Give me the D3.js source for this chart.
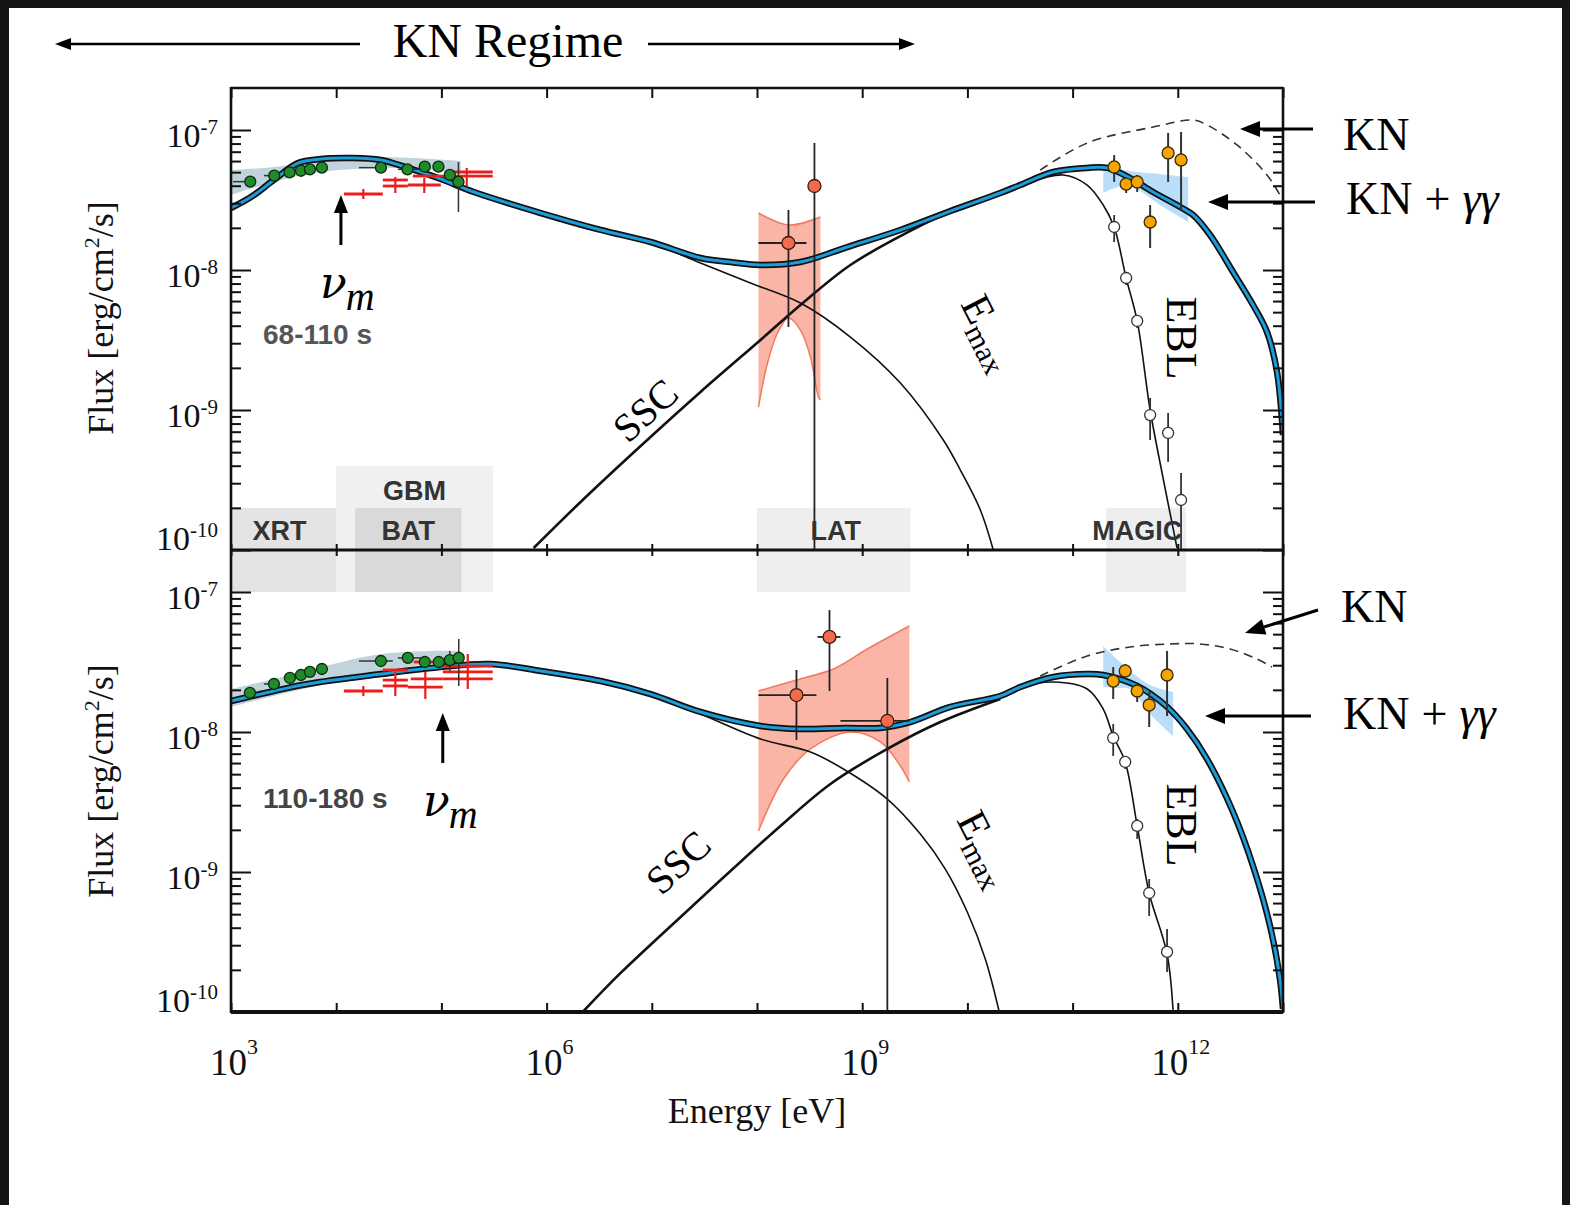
<!DOCTYPE html>
<html><head><meta charset="utf-8">
<script src="https://cdn.jsdelivr.net/npm/d3@7"></script>
<style>
html,body{margin:0;padding:0;background:#fff;}
svg{display:block;}
</style></head><body>
<svg id="chart" width="1570" height="1205"></svg>
<script>
// All values are log10: energy in eV, flux in erg cm^-2 s^-1.

// ---- instruments (energy coverage) ----
const instrumentNames = ["XRT", "GBM", "BAT", "LAT", "MAGIC"];
const instrumentLo    = [3.0, 4.0, 4.18, 8.0, 11.32];
const instrumentHi    = [4.0, 5.49, 5.19, 9.46, 12.08];

// ---- tick values ----
const xLabelDecades = [3, 6, 9, 12];
const yLabelDecades = [-10, -9, -8, -7];

// ---- 68-110 s ----
const earlyTotal = [[3.0,-7.557],[3.19,-7.479],[3.408,-7.357],[3.636,-7.236],[3.855,-7.207],[4.14,-7.2],[4.425,-7.214],[4.681,-7.271],[4.994,-7.35],[5.308,-7.443],[5.944,-7.593],[6.514,-7.714],[6.989,-7.8],[7.463,-7.914],[7.748,-7.943],[8.033,-7.964],[8.413,-7.943],[8.859,-7.836],[9.363,-7.714],[9.838,-7.579],[10.313,-7.45],[10.502,-7.393],[10.816,-7.3],[11.139,-7.271],[11.329,-7.271],[11.547,-7.343],[11.765,-7.443],[12.022,-7.55],[12.145,-7.607],[12.307,-7.75],[12.525,-8.014],[12.715,-8.25],[12.848,-8.443],[12.943,-8.729],[13.0,-9.179]];
const earlySync = [[3.0,-7.557],[3.19,-7.479],[3.408,-7.357],[3.636,-7.236],[3.855,-7.207],[4.14,-7.2],[4.425,-7.214],[4.681,-7.271],[4.994,-7.35],[5.308,-7.443],[5.944,-7.593],[6.514,-7.714],[6.989,-7.807],[7.463,-7.95],[7.938,-8.093],[8.413,-8.236],[8.888,-8.479],[9.363,-8.807],[9.771,-9.214],[9.933,-9.429],[10.123,-9.714],[10.246,-10.0]];
const earlySSC = [[5.877,-9.986],[6.323,-9.657],[6.894,-9.257],[7.463,-8.871],[8.033,-8.5],[8.413,-8.25],[8.888,-7.964],[9.486,-7.71],[9.838,-7.585],[10.313,-7.455]];
const earlyEBL = [[10.313,-7.45],[10.502,-7.393],[10.911,-7.321],[11.139,-7.393],[11.291,-7.536],[11.395,-7.693],[11.509,-8.057],[11.614,-8.364],[11.737,-9.0],[11.86,-9.486],[11.993,-9.986]];
const earlyKN = [[10.692,-7.286],[11.139,-7.093],[11.765,-6.979],[12.145,-6.929],[12.278,-6.964],[12.563,-7.107],[12.848,-7.321],[12.971,-7.464]];
const earlyXBandUp = [[3.0,-7.286],[3.408,-7.264],[3.855,-7.214],[4.425,-7.193],[4.899,-7.207],[5.184,-7.221]];
const earlyXBandLo = [[3.0,-7.464],[3.408,-7.371],[3.855,-7.3],[4.425,-7.271],[4.899,-7.286],[5.184,-7.314]];
const earlyLatUp = [[8.014,-7.593],[8.299,-7.679],[8.603,-7.621]];
const earlyLatLo = [[8.014,-8.979],[8.1,-8.664],[8.195,-8.45],[8.299,-8.343],[8.413,-8.429],[8.508,-8.621],[8.584,-8.907],[8.603,-8.929]];
const earlyMagicUp = [[11.291,-7.25],[11.547,-7.293],[11.832,-7.314],[12.098,-7.336]];
const earlyMagicLo = [[11.291,-7.45],[11.405,-7.414],[11.547,-7.4],[11.832,-7.536],[12.098,-7.657]];
// [E, F, Elo, Ehi, Flo, Fhi]
const earlyXrt = [[3.183,-7.369,3.02,3.183,null,null],[3.411,-7.326,3.313,3.411,null,null],[3.557,-7.302,null,null,null,null],[3.665,-7.291,null,null,null,null],[3.75,-7.281,null,null,null,null],[3.864,-7.269,null,null,null,null],[4.425,-7.269,4.216,4.425,null,null],[4.678,-7.281,4.586,4.833,null,null],[4.842,-7.262,null,null,null,null],[4.972,-7.262,null,null,null,null],[5.08,-7.321,null,null,null,null],[5.162,-7.371,null,null,-7.586,-7.229]];
// [Elo, Ehi, F, Flo, Fhi]
const earlyBat = [[4.073,4.443,-7.457,-7.493,-7.421],[4.443,4.681,-7.4,-7.45,-7.336],[4.443,4.681,-7.357,null,null],[4.681,4.994,-7.393,-7.45,-7.343],[4.728,4.994,-7.329,null,null],[4.994,5.488,-7.329,-7.4,-7.271],[5.1,5.488,-7.3,null,null]];
const earlyLat = [[8.299,-7.807,8.014,8.47,-8.407,-7.571],[8.546,-7.4,null,null,-10,-7.093]];
const earlyMagic = [[11.395,-7.264,null,null,-7.371,-7.179],[11.509,-7.386,null,null,-7.45,-7.357],[11.614,-7.371,null,null,-7.443,-7.321],[11.908,-7.164,null,null,-7.371,-7.021],[12.031,-7.214,null,null,-7.571,-7.014],[11.737,-7.657,null,null,-7.843,-7.536]];
const earlyMagicObs = [[11.395,-7.693,null,null,-7.8,-7.607],[11.509,-8.057,null,null,-8.107,-8.014],[11.614,-8.364,null,null,-8.414,-8.321],[11.737,-9.036,null,null,-9.214,-8.914],[11.908,-9.164,null,null,-9.371,-9.021],[12.031,-9.643,null,null,-10,-9.45]];

// ---- 110-180 s ----
const lateTotal = [[3.0,-7.779],[3.408,-7.707],[3.731,-7.657],[4.425,-7.586],[4.994,-7.536],[5.469,-7.514],[5.944,-7.564],[6.514,-7.636],[6.989,-7.729],[7.463,-7.857],[8.033,-7.957],[8.413,-7.979],[8.84,-7.971],[9.173,-7.971],[9.458,-7.929],[9.838,-7.821],[10.313,-7.743],[10.502,-7.679],[10.816,-7.607],[11.139,-7.586],[11.291,-7.593],[11.614,-7.671],[11.898,-7.821],[12.088,-7.979],[12.278,-8.193],[12.525,-8.571],[12.715,-8.957],[12.877,-9.386],[12.971,-9.764],[13.0,-9.979]];
const lateSync = [[3.0,-7.779],[3.408,-7.707],[3.731,-7.657],[4.425,-7.586],[4.994,-7.536],[5.469,-7.514],[5.944,-7.564],[6.514,-7.636],[6.989,-7.736],[7.463,-7.871],[8.033,-8.05],[8.508,-8.143],[8.821,-8.264],[9.239,-8.479],[9.553,-8.729],[9.79,-8.979],[9.999,-9.286],[10.17,-9.621],[10.303,-10.0]];
const lateSSC = [[6.343,-10.0],[6.704,-9.721],[7.274,-9.321],[7.748,-8.993],[8.223,-8.671],[8.698,-8.371],[9.239,-8.121],[9.743,-7.929],[10.313,-7.764]];
const lateEBL = [[10.313,-7.743],[10.502,-7.679],[10.816,-7.643],[11.139,-7.693],[11.291,-7.836],[11.386,-8.029],[11.5,-8.214],[11.614,-8.671],[11.728,-9.15],[11.898,-9.586],[11.955,-9.993]];
const lateKN = [[10.692,-7.6],[11.139,-7.457],[11.547,-7.393],[11.927,-7.371],[12.212,-7.371],[12.497,-7.407],[12.753,-7.479],[12.896,-7.536]];
const lateXBandUp = [[3.0,-7.693],[3.408,-7.621],[3.855,-7.536],[4.425,-7.443],[4.899,-7.421],[5.184,-7.421]];
const lateXBandLo = [[3.0,-7.821],[3.408,-7.743],[3.855,-7.664],[4.425,-7.564],[4.899,-7.514],[5.184,-7.493]];
const lateLatUp = [[8.014,-7.707],[8.413,-7.621],[8.726,-7.55],[9.049,-7.407],[9.448,-7.243]];
const lateLatLo = [[8.014,-8.707],[8.252,-8.336],[8.508,-8.121],[8.888,-8.0],[9.173,-8.071],[9.363,-8.243],[9.448,-8.357]];
const lateMagicUp = [[11.291,-7.386],[11.547,-7.564],[11.737,-7.664],[11.955,-7.714]];
const lateMagicLo = [[11.291,-7.679],[11.405,-7.686],[11.547,-7.693],[11.737,-7.871],[11.955,-8.029]];
const lateXrt = [[3.18,-7.721,null,null,null,null],[3.408,-7.657,3.313,3.408,null,null],[3.56,-7.614,null,null,null,null],[3.665,-7.593,null,null,null,null],[3.75,-7.571,null,null,null,null],[3.864,-7.55,null,null,null,null],[4.425,-7.493,4.216,4.538,null,null],[4.681,-7.471,4.586,4.804,null,null],[4.842,-7.5,null,null,null,null],[4.975,-7.5,null,null,null,null],[5.08,-7.486,null,null,-7.564,-7.421],[5.165,-7.471,null,null,-7.671,-7.336]];
const lateBat = [[4.073,4.443,-7.707,-7.743,-7.671],[4.443,4.681,-7.671,-7.743,-7.571],[4.443,4.681,-7.629,null,null],[4.443,4.681,-7.557,null,null],[4.681,5.013,-7.679,-7.764,-7.571],[4.709,5.013,-7.621,null,null],[4.738,5.013,-7.5,null,null],[5.013,5.488,-7.571,-7.693,-7.443],[5.013,5.488,-7.529,null,null],[5.013,5.488,-7.621,null,null]];
const lateLat = [[8.375,-7.736,8.014,8.565,-8.057,-7.557],[8.689,-7.321,8.575,8.793,-7.707,-7.129],[9.239,-7.921,8.793,9.448,-10,-7.614]];
const lateMagic = [[11.386,-7.636,null,null,-7.764,-7.536],[11.5,-7.564,null,null,-7.621,-7.514],[11.614,-7.707,null,null,-7.786,-7.671],[11.728,-7.807,null,null,-7.964,-7.714],[11.898,-7.593,null,null,-7.886,-7.421]];
const lateMagicObs = [[11.386,-8.043,null,null,-8.171,-7.943],[11.5,-8.214,null,null,-8.264,-8.171],[11.614,-8.671,null,null,-8.764,-8.621],[11.728,-9.15,null,null,-9.314,-9.05],[11.898,-9.571,null,null,-9.714,-9.407]];

// ---------------------------------------------------------------
const P = v => Math.pow(10, v);
const svg = d3.select("#chart");
const SERIF = "'Liberation Serif','Times New Roman',serif";
const SANS = "'Liberation Sans',Arial,sans-serif";

const L = 231, R = 1283;
const x = d3.scaleLog().domain([1e3, 1e13]).range([L, R]);
const panels = [
  { key: "early", top: 88, bottom: 550, label: "68-110 s",
    total: earlyTotal, sync: earlySync, ssc: earlySSC, ebl: earlyEBL, kn: earlyKN,
    xUp: earlyXBandUp, xLo: earlyXBandLo, latUp: earlyLatUp, latLo: earlyLatLo,
    mUp: earlyMagicUp, mLo: earlyMagicLo, xrt: earlyXrt, bat: earlyBat, lat: earlyLat,
    magic: earlyMagic, magicObs: earlyMagicObs },
  { key: "late", top: 550, bottom: 1012, label: "110-180 s",
    total: lateTotal, sync: lateSync, ssc: lateSSC, ebl: lateEBL, kn: lateKN,
    xUp: lateXBandUp, xLo: lateXBandLo, latUp: lateLatUp, latLo: lateLatLo,
    mUp: lateMagicUp, mLo: lateMagicLo, xrt: lateXrt, bat: lateBat, lat: lateLat,
    magic: lateMagic, magicObs: lateMagicObs }
];
panels.forEach(p => {
  p.y = d3.scaleLog().domain([1e-10, P(-6.7)]).range([p.bottom, p.top]);
});

// page frame
svg.append("rect").attr("width", 1570).attr("height", 1205).attr("fill", "#fff");
svg.append("rect").attr("x", 0).attr("y", 0).attr("width", 1570).attr("height", 8).attr("fill", "#151515");
svg.append("rect").attr("x", 0).attr("y", 0).attr("width", 9).attr("height", 1205).attr("fill", "#151515");
svg.append("rect").attr("x", 1562).attr("y", 0).attr("width", 8).attr("height", 1205).attr("fill", "#151515");

const defs = svg.append("defs");
panels.forEach(p => {
  defs.append("clipPath").attr("id", "clip-" + p.key)
    .append("rect").attr("x", L).attr("y", p.top).attr("width", R - L).attr("height", p.bottom - p.top);
});

// instrument coverage boxes straddling the two panels
const boxG = svg.append("g");
const boxFill = { XRT: "#e3e3e3", GBM: "#f0f0f0", BAT: "#d9d9d9", LAT: "#eeeeee", MAGIC: "#eeeeee" };
instrumentNames.forEach((n, i) => {
  const top = n === "GBM" ? 466 : 508;
  boxG.append("rect")
    .attr("x", x(P(instrumentLo[i]))).attr("y", top)
    .attr("width", x(P(instrumentHi[i])) - x(P(instrumentLo[i])))
    .attr("height", 592 - top).attr("fill", boxFill[n]);
});

function lineGen(y) {
  return d3.line().x(d => x(P(d[0]))).y(d => y(P(d[1]))).curve(d3.curveCatmullRom.alpha(0.5));
}
function bandPath(y, up, lo) {
  const g = lineGen(y);
  return g(up) + "L" + g(lo.slice().reverse()).slice(1) + "Z";
}

panels.forEach(p => {
  const y = p.y;
  const g = svg.append("g").attr("clip-path", `url(#clip-${p.key})`);
  const lg = lineGen(y);

  // uncertainty bands
  g.append("path").attr("d", bandPath(y, p.xUp, p.xLo)).attr("fill", "rgba(120,160,175,0.45)");
  g.append("path").attr("d", bandPath(y, p.latUp, p.latLo)).attr("fill", "rgba(247,128,104,0.58)");
  g.append("path").attr("d", lg(p.latUp)).attr("fill", "none").attr("stroke", "#f4795e").attr("stroke-width", 1.5);
  g.append("path").attr("d", lg(p.latLo)).attr("fill", "none").attr("stroke", "#f4795e").attr("stroke-width", 1.5);
  g.append("path").attr("d", bandPath(y, p.mUp, p.mLo)).attr("fill", "rgba(130,195,245,0.55)");

  // model components
  g.append("path").attr("d", lg(p.sync)).attr("fill", "none").attr("stroke", "#111").attr("stroke-width", 1.6);
  g.append("path").attr("d", lg(p.ssc)).attr("fill", "none").attr("stroke", "#111").attr("stroke-width", 2.6);
  g.append("path").attr("d", lg(p.ebl)).attr("fill", "none").attr("stroke", "#111").attr("stroke-width", 1.6);
  g.append("path").attr("d", lg(p.kn)).attr("fill", "none").attr("stroke", "#333").attr("stroke-width", 1.6).attr("stroke-dasharray", "9,6");
  g.append("path").attr("d", lg(p.total)).attr("fill", "none").attr("stroke", "#111").attr("stroke-width", 6.5);
  g.append("path").attr("d", lg(p.total)).attr("fill", "none").attr("stroke", "#1b9ddb").attr("stroke-width", 3);

  // BAT / GBM crosses
  p.bat.forEach(d => {
    const xc = x(P((d[0] + d[1]) / 2));
    g.append("line").attr("x1", x(P(d[0]))).attr("x2", x(P(d[1]))).attr("y1", y(P(d[2]))).attr("y2", y(P(d[2])))
      .attr("stroke", "#f01c1c").attr("stroke-width", 2.8);
    if (d[3] !== null)
      g.append("line").attr("x1", xc).attr("x2", xc).attr("y1", y(P(d[3]))).attr("y2", y(P(d[4])))
        .attr("stroke", "#f01c1c").attr("stroke-width", 2.2);
  });

  // points with error bars
  function pts(data, fill, stroke, r, ecol, ew) {
    data.forEach(d => {
      const cx = x(P(d[0])), cy = y(P(d[1]));
      if (d[2] !== null)
        g.append("line").attr("x1", x(P(d[2]))).attr("x2", x(P(d[3]))).attr("y1", cy).attr("y2", cy)
          .attr("stroke", ecol).attr("stroke-width", ew);
      if (d[4] !== null)
        g.append("line").attr("x1", cx).attr("x2", cx).attr("y1", y(P(d[4]))).attr("y2", y(P(d[5])))
          .attr("stroke", ecol).attr("stroke-width", ew);
    });
    data.forEach(d => {
      g.append("circle").attr("cx", x(P(d[0]))).attr("cy", y(P(d[1]))).attr("r", r)
        .attr("fill", fill).attr("stroke", stroke).attr("stroke-width", 1.3);
    });
  }
  pts(p.xrt, "#1f8b2b", "#0c2a0c", 5.5, "#333", 1.5);
  pts(p.lat, "#f26b4c", "#3a1c12", 6.5, "#222", 1.8);
  pts(p.magicObs, "#ffffff", "#333", 5.5, "#333", 1.8);
  pts(p.magic, "#f5a402", "#3a2a0a", 6, "#333", 2);
});

// ---- frame and axes ----
const axG = svg.append("g");
const majorY = yLabelDecades.map(P);
const minorY = [];
[-10, -9, -8, -7].forEach(e => { for (let m = 2; m <= 9; m++) { const v = m * P(e); if (v < P(-6.7)) minorY.push(v); } });
const decadesX = d3.range(3, 14).map(P);

function styleAxis(sel, w) {
  sel.select(".domain").remove();
  sel.selectAll("line").attr("stroke", "#111").attr("stroke-width", w);
  sel.selectAll("text").remove();
}
panels.forEach(p => {
  [[majorY, 20], [minorY, 10]].forEach(([vals, sz]) => {
    axG.append("g").attr("transform", `translate(${L},0)`)
      .call(d3.axisRight(p.y).tickValues(vals).tickSize(sz).tickFormat(""))
      .call(s => styleAxis(s, 2));
    axG.append("g").attr("transform", `translate(${R},0)`)
      .call(d3.axisLeft(p.y).tickValues(vals).tickSize(sz).tickFormat(""))
      .call(s => styleAxis(s, 2));
  });
});
axG.append("g").attr("transform", "translate(0,88)")
  .call(d3.axisBottom(x).tickValues(decadesX).tickSize(10).tickFormat("")).call(s => styleAxis(s, 2));
axG.append("g").attr("transform", "translate(0,550)")
  .call(d3.axisBottom(x).tickValues(decadesX).tickSize(6).tickFormat("")).call(s => styleAxis(s, 2));
axG.append("g").attr("transform", "translate(0,550)")
  .call(d3.axisTop(x).tickValues(decadesX).tickSize(6).tickFormat("")).call(s => styleAxis(s, 2));
axG.append("g").attr("transform", "translate(0,1012)")
  .call(d3.axisTop(x).tickValues(decadesX).tickSize(9).tickFormat("")).call(s => styleAxis(s, 2));

axG.append("line").attr("x1", L).attr("x2", L).attr("y1", 87).attr("y2", 1013).attr("stroke", "#111").attr("stroke-width", 2.6);
axG.append("line").attr("x1", R).attr("x2", R).attr("y1", 87).attr("y2", 1013).attr("stroke", "#111").attr("stroke-width", 2.6);
axG.append("line").attr("x1", L).attr("x2", R).attr("y1", 88).attr("y2", 88).attr("stroke", "#111").attr("stroke-width", 2.6);
axG.append("line").attr("x1", L).attr("x2", R).attr("y1", 550).attr("y2", 550).attr("stroke", "#111").attr("stroke-width", 3.2);
axG.append("line").attr("x1", L).attr("x2", R).attr("y1", 1012).attr("y2", 1012).attr("stroke", "#111").attr("stroke-width", 4);

// tick labels
function powLabel(xp, yp, exp, size, supSize, supDy, anchor) {
  const t = svg.append("text").attr("x", xp).attr("y", yp).attr("text-anchor", anchor)
    .attr("font-family", SERIF).attr("font-size", size).attr("fill", "#111");
  t.append("tspan").text("10");
  t.append("tspan").attr("font-size", supSize).attr("dy", supDy).text(exp);
}
panels.forEach(p => {
  yLabelDecades.forEach(e => {
    const yy = p.y(P(e)) + (e === -10 ? 0 : 17);
    powLabel(218, yy, String(e), 34, 21, -13, "end");
  });
});
xLabelDecades.forEach(e => powLabel(x(P(e)) + 3, 1075, String(e), 37, 22, -21, "middle"));

svg.append("text").attr("x", 757).attr("y", 1123).attr("text-anchor", "middle")
  .attr("font-family", SERIF).attr("font-size", 36).attr("fill", "#111").text("Energy [eV]");
[318, 781].forEach(cy => {
  const t = svg.append("text").attr("transform", `translate(113,${cy}) rotate(-90)`).attr("text-anchor", "middle")
    .attr("font-family", SERIF).attr("font-size", 36).attr("fill", "#111");
  t.append("tspan").text("Flux [erg/cm");
  t.append("tspan").attr("font-size", 22).attr("dy", -14).text("2");
  t.append("tspan").attr("dy", 14).text("/s]");
});

// instrument labels
const boxLabelY = { XRT: 540, GBM: 500, BAT: 540, LAT: 540, MAGIC: 540 };
const boxLabelShift = { XRT: -4, GBM: 0, BAT: 0, LAT: 2, MAGIC: -9 };
instrumentNames.forEach((n, i) => {
  const cx = (x(P(instrumentLo[i])) + x(P(instrumentHi[i]))) / 2 + boxLabelShift[n];
  svg.append("text").attr("x", cx).attr("y", boxLabelY[n]).attr("text-anchor", "middle")
    .attr("font-family", SANS).attr("font-weight", "bold").attr("font-size", 27).attr("fill", "#333").text(n);
});

// time-interval labels
svg.append("text").attr("x", 263).attr("y", 344).attr("font-family", SANS).attr("font-weight", "bold")
  .attr("font-size", 28).attr("fill", "#555").text(panels[0].label);
svg.append("text").attr("x", 263).attr("y", 808).attr("font-family", SANS).attr("font-weight", "bold")
  .attr("font-size", 28).attr("fill", "#444").text(panels[1].label);

// arrows
function arrow(x1, y1, x2, y2, head, hw, sw) {
  const a = Math.atan2(y2 - y1, x2 - x1);
  const bx = x2 - head * Math.cos(a), by = y2 - head * Math.sin(a);
  svg.append("line").attr("x1", x1).attr("y1", y1).attr("x2", bx).attr("y2", by)
    .attr("stroke", "#000").attr("stroke-width", sw);
  const px = -Math.sin(a) * hw, py = Math.cos(a) * hw;
  svg.append("path").attr("d", `M${x2},${y2}L${bx + px},${by + py}L${bx - px},${by - py}Z`).attr("fill", "#000");
}

// header
svg.append("text").attr("x", 508).attr("y", 57).attr("text-anchor", "middle")
  .attr("font-family", SERIF).attr("font-size", 48).attr("fill", "#000").text("KN Regime");
arrow(360, 44, 55, 44, 16, 6, 2.6);
arrow(648, 44, 915, 44, 16, 6, 2.6);

// nu_m markers
function nuLabel(xp, yp) {
  const t = svg.append("text").attr("x", xp).attr("y", yp)
    .attr("font-style", "italic").attr("fill", "#000");
  t.append("tspan").attr("font-family", "'DejaVu Serif',serif").attr("font-size", 44).text("ν");
  t.append("tspan").attr("font-family", SERIF).attr("font-size", 40).attr("dy", 12).attr("dx", -1).text("m");
}
arrow(x(P(4.045)), 245, x(P(4.045)), 195, 18, 7, 3);
nuLabel(320, 298);
arrow(x(P(5.013)), 763, x(P(5.013)), 713, 18, 7, 3);
nuLabel(423, 816);

// component labels
function rotText(cx, cy, ang, size, str) {
  svg.append("text").attr("transform", `translate(${cx},${cy}) rotate(${ang})`).attr("text-anchor", "middle")
    .attr("dy", "0.35em").attr("font-family", SERIF).attr("font-size", size).attr("fill", "#000").text(str);
}
rotText(645, 410, -42, 40, "SSC");
rotText(678, 862, -43, 40, "SSC");
rotText(1182, 338, 90, 44, "EBL");
rotText(1182, 825, 90, 44, "EBL");
function emax(xp, yp) {
  const t = svg.append("text").attr("transform", `translate(${xp},${yp}) rotate(63)`)
    .attr("font-family", SERIF).attr("font-size", 42).attr("fill", "#000");
  t.append("tspan").text("E");
  t.append("tspan").attr("font-size", 30).attr("dy", 9).text("max");
}
emax(960, 304);
emax(956, 820);

// KN annotations
function knText(xp, yp, withGG) {
  const t = svg.append("text").attr("x", xp).attr("y", yp).attr("font-family", SERIF)
    .attr("font-size", 46).attr("fill", "#000");
  t.append("tspan").text("KN");
  if (withGG) {
    t.append("tspan").attr("dx", 12).text("+");
    t.append("tspan").attr("dx", 12).attr("font-style", "italic").text("γγ");
  }
}
knText(1343, 150, false);
knText(1346, 214, true);
arrow(1313, 129, 1240, 129, 20, 8, 3);
arrow(1315, 202, 1208, 202, 20, 8, 3);
knText(1341, 622, false);
knText(1343, 729, true);
arrow(1318, 610, 1245, 633, 20, 8, 3);
arrow(1311, 716, 1205, 716, 20, 8, 3);
</script>
</body></html>
